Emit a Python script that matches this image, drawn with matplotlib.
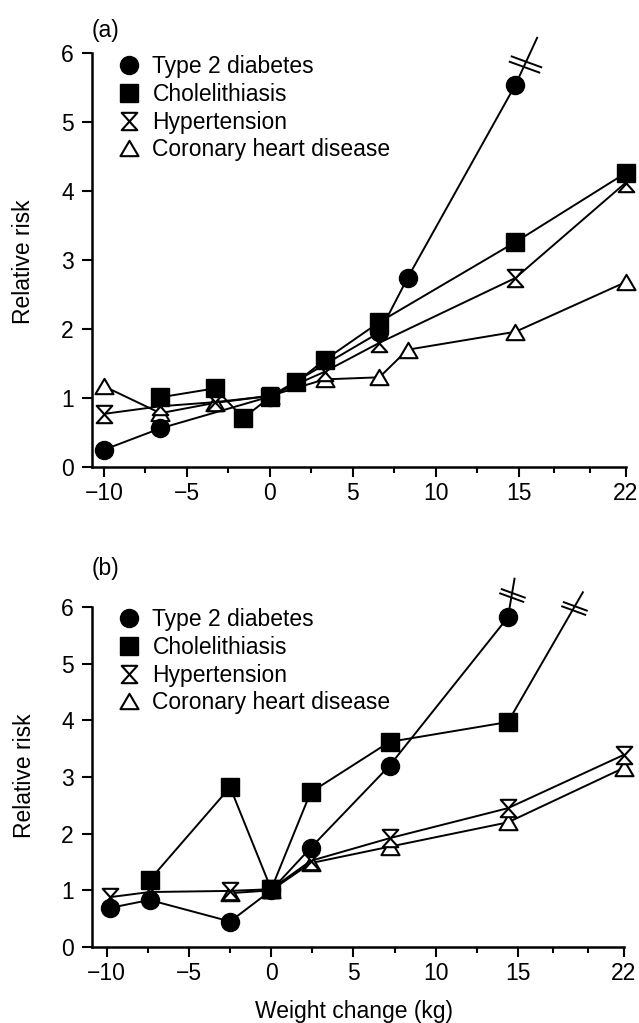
import numpy as np
import matplotlib
matplotlib.use("Agg")
import matplotlib.pyplot as plt
from matplotlib.path import Path
from matplotlib.lines import Line2D

plt.rcParams['font.family'] = ['Liberation Sans', 'DejaVu Sans']
FS = 16.5
plt.rcParams['font.size'] = FS

# ---- panel (a) data ----
a_diab_x = [-10, -6.6, 0, 6.6, 8.3, 14.8]
a_diab_y = [0.25, 0.56, 1.02, 1.95, 2.74, 5.54]
a_diab_ext = [16.2, 6.22]          # line continues off-scale
a_chol_x = [-6.6, -3.3, -1.6, 0, 1.6, 3.3, 6.6, 14.8, 22]
a_chol_y = [1.01, 1.14, 0.71, 1.01, 1.23, 1.55, 2.10, 3.26, 4.26]
a_hyp_x = [-10, -6.6, -3.3, 0, 3.3, 6.6, 14.8, 22]
a_hyp_y = [0.77, 0.88, 0.94, 1.03, 1.38, 1.80, 2.74, 4.12]
a_chd_x = [-10, -6.6, -3.3, 0, 3.3, 6.6, 8.3, 14.8, 22]
a_chd_y = [1.17, 0.78, 0.93, 1.03, 1.27, 1.30, 1.70, 1.96, 2.68]

# ---- panel (b) data ----
b_diab_x = [-9.8, -7.4, -2.5, 0, 2.4, 7.2, 14.4]
b_diab_y = [0.69, 0.83, 0.45, 1.00, 1.75, 3.20, 5.82]
b_diab_ext = [14.8, 6.50]
b_chol_x = [-7.4, -2.5, 0, 2.4, 7.2, 14.4]
b_chol_y = [1.18, 2.82, 1.02, 2.73, 3.62, 3.97]
b_chol_ext = [19.3, 6.26]
b_hyp_x = [-9.8, -7.4, -2.5, 0, 2.4, 7.2, 14.4, 22]
b_hyp_y = [0.88, 0.97, 0.99, 1.02, 1.52, 1.92, 2.45, 3.39]
b_chd_x = [-2.5, 0, 2.4, 7.2, 14.4, 22]
b_chd_y = [0.95, 1.00, 1.48, 1.77, 2.20, 3.16]

labels = ['Type 2 diabetes', 'Cholelithiasis', 'Hypertension', 'Coronary heart disease']
x_major = [-10, -5, 0, 5, 10, 15, 22]
x_minor = [-7.5, -2.5, 2.5, 7.5, 12.5, 15 + 7 / 3, 15 + 14 / 3]

# markers
hourglass = Path([(-0.9, 1), (0.9, 1), (-0.9, -1), (0.9, -1), (-0.9, 1)],
                 [Path.MOVETO, Path.LINETO, Path.LINETO, Path.LINETO, Path.CLOSEPOLY])
triangle = Path([(0, 0.85), (-1, -0.85), (1, -0.85), (0, 0.85)],
                [Path.MOVETO, Path.LINETO, Path.LINETO, Path.CLOSEPOLY])


def break_marker(angle=-20, gap=0.17):
    a = np.deg2rad(angle)
    u = np.array([np.cos(a), np.sin(a)])
    n = np.array([-np.sin(a), np.cos(a)])
    verts = []
    for s in (-1, 1):
        c = s * 0.5 * gap * n
        verts += [tuple(c - 0.5 * u), tuple(c + 0.5 * u)]
    return Path(verts, [Path.MOVETO, Path.LINETO, Path.MOVETO, Path.LINETO])


brk = break_marker()

styles = {
    'diab': dict(marker='o', ms=13, mfc='k', mec='k', mew=1),
    'chol': dict(marker='s', ms=12.5, mfc='k', mec='k', mew=1),
    'hyp': dict(marker=hourglass, ms=12.5, mfc='w', mec='k', mew=1.5),
    'chd': dict(marker=triangle, ms=13, mfc='w', mec='k', mew=1.5),
}
LW = 1.4


def fwd(x):
    x = np.asarray(x, float)
    return np.where(x > 15, 15 + (x - 15) * 0.92, x)


def inv(x):
    x = np.asarray(x, float)
    return np.where(x > 15, 15 + (x - 15) / 0.92, x)


def series(ax, x, y, key, z):
    ax.plot(x, y, color='k', lw=LW, clip_on=False, zorder=z, **styles[key])


def extension(ax, x, y, ext, frac, ms, z):
    ax.plot([x[-1], ext[0]], [y[-1], ext[1]], color='k', lw=LW, clip_on=False, zorder=z - 0.5)
    bx = x[-1] + frac * (ext[0] - x[-1])
    by = y[-1] + frac * (ext[1] - y[-1])
    ax.plot([bx], [by], ls='none', marker=brk, ms=ms, mfc='none', mec='k', mew=1.4,
            clip_on=False, zorder=z + 1)


def style_axes(ax, xmin, ymax):
    ax.set_xscale('function', functions=(fwd, inv))
    ax.set_xlim(xmin, 22.35)
    ax.set_ylim(0, ymax)
    for s in ('top', 'right'):
        ax.spines[s].set_visible(False)
    ax.spines['left'].set_bounds(0, 6)
    ax.spines['bottom'].set_bounds(xmin, 22)
    for s in ('left', 'bottom'):
        ax.spines[s].set_linewidth(1.8)
    ax.set_xticks(x_major)
    ax.set_xticklabels([str(v).replace('-', '\u2212') for v in x_major])
    ax.set_xticks(x_minor, minor=True)
    ax.set_yticks(range(7))
    ax.tick_params(axis='both', which='major', direction='out', length=7, width=1.5,
                   labelsize=FS)
    ax.tick_params(axis='x', which='major', pad=4)
    ax.tick_params(axis='y', which='major', pad=6)
    ax.tick_params(axis='x', which='minor', direction='out', length=4.5, width=1.5)
    ax.set_ylabel('Relative risk', fontsize=FS)


def legend(ax, fig, top_px):
    handles = [Line2D([], [], ls='none', **styles[k]) for k in ('diab', 'chol', 'hyp', 'chd')]
    ax.legend(handles, labels, loc='upper left', bbox_to_anchor=(118 / 639, 1 - top_px / 1023),
              bbox_transform=fig.transFigure, frameon=False, fontsize=FS,
              handlelength=1.0, handletextpad=0.5, labelspacing=0.21,
              borderpad=0, borderaxespad=0)


fig = plt.figure(figsize=(6.39, 10.23), dpi=100)
ax_a = fig.add_axes([92 / 639, 1 - 467 / 1023, 539 / 639, 434.7 / 1023])
ax_b = fig.add_axes([92 / 639, 1 - 947 / 1023, 537 / 639, 374 / 1023])

# panel (a)
style_axes(ax_a, -10.72, 6.3)
series(ax_a, a_chd_x, a_chd_y, 'chd', 2)
series(ax_a, a_hyp_x, a_hyp_y, 'hyp', 3)
series(ax_a, a_diab_x, a_diab_y, 'diab', 4)
series(ax_a, a_chol_x, a_chol_y, 'chol', 5)
extension(ax_a, a_diab_x, a_diab_y, a_diab_ext, 0.45, 24, 4)
legend(ax_a, fig, 55)
ax_a.yaxis.set_label_coords(-0.105, 0.472)
fig.text(92 / 639, 1 - 30 / 1023, '(a)', fontsize=FS, va='center', ha='left')

# panel (b)
style_axes(ax_b, -10.9, 6.6)
series(ax_b, b_chd_x, b_chd_y, 'chd', 2)
series(ax_b, b_hyp_x, b_hyp_y, 'hyp', 3)
series(ax_b, b_diab_x, b_diab_y, 'diab', 4)
series(ax_b, b_chol_x, b_chol_y, 'chol', 5)
extension(ax_b, b_diab_x, b_diab_y, b_diab_ext, 0.57, 19, 4)
extension(ax_b, b_chol_x, b_chol_y, b_chol_ext, 0.88, 19, 5)
legend(ax_b, fig, 608)
ax_b.yaxis.set_label_coords(-0.105, 0.457)
ax_b.set_xlabel('Weight change (kg)', fontsize=FS)
ax_b.xaxis.set_label_coords(0.488, -0.142)
fig.text(92 / 639, 1 - 569 / 1023, '(b)', fontsize=FS, va='center', ha='left')

fig.savefig('out.png', dpi=100)
